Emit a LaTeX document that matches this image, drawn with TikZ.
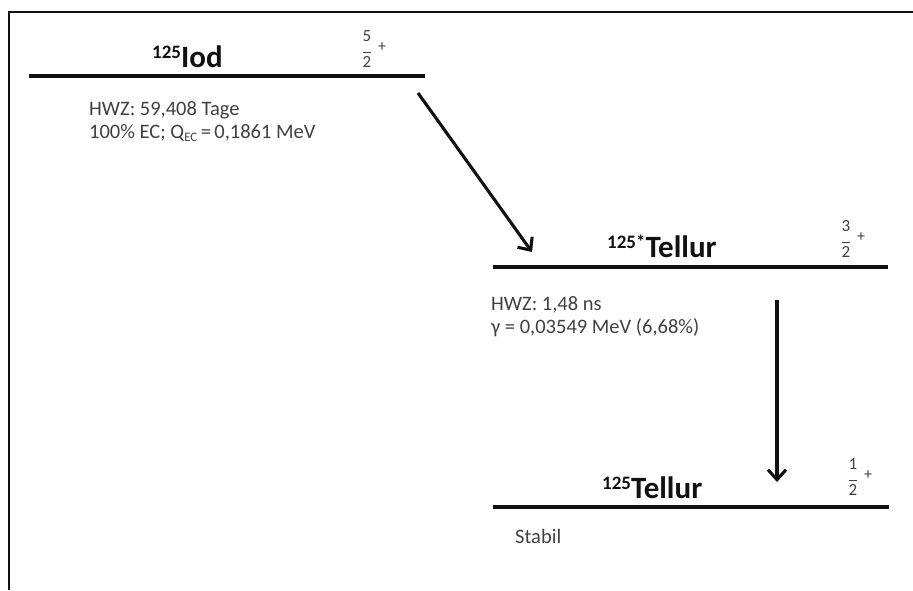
\documentclass[tikz,border=0pt]{standalone}
\usepackage{fontspec}
\setmainfont{Carlito}
\usetikzlibrary{arrows.meta}
\definecolor{txtgrey}{HTML}{404040}
\definecolor{ink}{HTML}{111111}
\newcommand{\isosup}[1]{{\fontsize{19}{19}\selectfont\raisebox{9pt}{#1}}}
\newcommand{\subec}[1]{{\fontsize{13}{13}\selectfont\raisebox{-3pt}{#1}}}
\newcommand{\spinfr}[2]{$\vcenter{\hbox{\fontsize{17}{17}\selectfont\begin{tabular}{@{}c@{}}#1\\[-5.5pt]\rule{8pt}{0.8pt}\\[-3pt]#2\end{tabular}}}$}
\begin{document}
\begin{tikzpicture}[x=1pt,y=-1pt,
  level/.style={line width=3.8pt,ink},
  decay/.style={line width=3.1pt,ink,-{Straight Barb[length=10pt,width=18pt,line width=3.1pt]}},
  title/.style={anchor=base west,inner sep=0pt,font=\fontsize{31}{31}\selectfont\bfseries,text=ink},
  info/.style={anchor=base west,inner sep=0pt,font=\fontsize{20.5}{22.5}\selectfont,text=txtgrey,align=left},
  spin/.style={inner sep=0pt,text=txtgrey},
  plus/.style={inner sep=0pt,font=\fontsize{16}{16}\selectfont,text=txtgrey}]
\useasboundingbox (0,0) rectangle (913,590);
% frame
\coordinate (fb) at (9,590);
\coordinate (fc) at (9,12);
\coordinate (fr) at (913,12);
\draw[line width=2pt,ink] (fb) -- (fc) -- (fr);
% levels
\coordinate (l1a) at (29,76);  \coordinate (l1b) at (425,76);
\coordinate (l2a) at (493,267); \coordinate (l2b) at (888,267);
\coordinate (l3a) at (493,507); \coordinate (l3b) at (889,507);
\draw[level] (l1a) -- (l1b);
\draw[level] (l2a) -- (l2b);
\draw[level] (l3a) -- (l3b);
% titles
\node[title] (iod) at (152,67) {\isosup{125}Iod};
\node[title] (te1) at (607,257) {\isosup{125*}Tellur};
\node[title] (te0) at (602,498) {\isosup{125}Tellur};
% spins
\node[spin] (s1) at (367,51) {\spinfr{5}{2}};
\node[plus] (p1) at (382,47) {+};
\node[spin] (s2) at (846,241) {\spinfr{3}{2}};
\node[plus] (p2) at (861,237) {+};
\node[spin] (s3) at (853,479) {\spinfr{1}{2}};
\node[plus] (p3) at (868,475) {+};
% info texts
\node[info] (i1) at (89,138) {HWZ: 59,408 Tage\\100\% EC; Q\subec{EC}\,=\,0,1861 MeV};
\node[info] (i2) at (491,333) {HWZ: 1,48 ns\\γ = 0,03549 MeV (6,68\%)};
\node[info] (i3) at (515,543) {Stabil};
% decays
\coordinate (a1s) at (418,93);  \coordinate (a1e) at (532,252);
\coordinate (a2s) at (777,300); \coordinate (a2e) at (777,482);
\draw[decay] (a1s) -- (a1e);
\draw[decay] (a2s) -- (a2e);
\end{tikzpicture}
\end{document}
